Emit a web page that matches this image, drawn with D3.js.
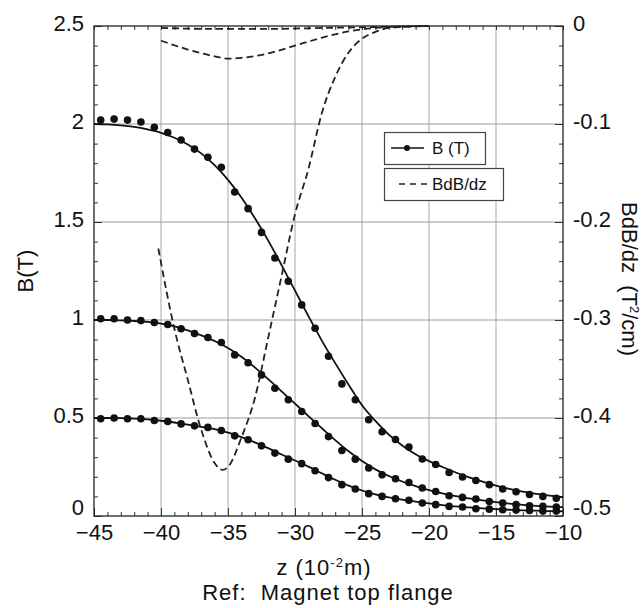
<!DOCTYPE html>
<html>
<head>
<meta charset="utf-8">
<script src="https://cdn.jsdelivr.net/npm/d3@7"></script>
<style>
  body { margin: 0; background: #fff; }
  text { font-family: "Liberation Sans", Arial, sans-serif; fill: #111; }
</style>
</head>
<body>
<div id="chart"></div>
<script>
// z positions (10^-2 m)
var zLine = [-45,-44,-43,-42,-41,-40,-39,-38,-37,-36,-35,-34,-33,-32,-31,-30,-29,-28,-27,-26,
             -25,-24,-23,-22,-21,-20,-19,-18,-17,-16,-15,-14,-13,-12,-11,-10];
var zDots = [-44.5,-43.5,-42.5,-41.5,-40.5,-39.5,-38.5,-37.5,-36.5,-35.5,-34.5,-33.5,-32.5,-31.5,
             -30.5,-29.5,-28.5,-27.5,-26.5,-25.5,-24.5,-23.5,-22.5,-21.5,-20.5,-19.5,-18.5,-17.5,
             -16.5,-15.5,-14.5,-13.5,-12.5,-11.5,-10.5];

// B (T), calculated curves
var bLine2 = [2.0,1.998,1.993,1.985,1.972,1.955,1.93,1.895,1.85,1.79,1.715,1.625,1.52,1.405,1.28,1.15,
              1.02,0.895,0.78,0.67,0.565,0.485,0.415,0.36,0.315,0.28,0.25,0.222,0.197,0.175,0.155,
              0.138,0.124,0.113,0.104,0.096];
var bLine1 = [1.0,1.0,0.998,0.995,0.99,0.982,0.968,0.947,0.922,0.893,0.857,0.812,0.758,0.698,0.636,
              0.573,0.51,0.448,0.387,0.33,0.28,0.238,0.204,0.176,0.152,0.132,0.115,0.101,0.09,0.08,
              0.071,0.063,0.057,0.052,0.048,0.045];
var bLine05 = [0.5,0.5,0.499,0.497,0.493,0.486,0.477,0.466,0.455,0.443,0.425,0.402,0.376,0.346,0.314,
               0.283,0.252,0.218,0.185,0.155,0.13,0.11,0.095,0.083,0.073,0.064,0.056,0.049,0.044,
               0.039,0.035,0.032,0.029,0.027,0.025,0.024];

// B (T), measured points
var bDots2 = [2.02,2.025,2.02,2.01,1.983,1.957,1.918,1.872,1.83,1.779,1.653,1.568,1.447,1.316,1.198,
              1.077,0.958,0.815,0.674,0.593,0.491,0.43,0.39,0.352,0.291,0.263,0.222,0.199,0.181,0.16,
              0.138,0.124,0.11,0.1,0.09];
var bDots1 = [1.006,1.006,1.0,0.997,0.987,0.977,0.955,0.931,0.911,0.885,0.822,0.782,0.72,0.652,0.593,
              0.533,0.472,0.405,0.334,0.29,0.245,0.21,0.19,0.171,0.143,0.125,0.103,0.095,0.087,0.074,
              0.066,0.058,0.052,0.049,0.046];
var bDots05 = [0.496,0.5,0.496,0.496,0.487,0.482,0.47,0.46,0.452,0.436,0.409,0.389,0.358,0.321,0.29,
               0.267,0.231,0.196,0.16,0.138,0.114,0.1,0.088,0.08,0.066,0.058,0.049,0.046,0.037,0.035,
               0.032,0.03,0.028,0.025,0.025];

// BdB/dz (T^2/cm)
var zGrad2 = [-40.2,-39,-38,-37,-36,-35.4,-35,-34,-33,-32,-31,-30,-29,-28,-27,-26,-25,-24,-23,-22,-20];
var gGrad2 = [-0.227,-0.309,-0.361,-0.412,-0.446,-0.453,-0.45,-0.42,-0.38,-0.318,-0.255,-0.192,-0.146,
              -0.089,-0.052,-0.027,-0.013,-0.006,-0.002,-0.001,0];
var zGrad1 = [-40,-38,-36,-35,-34,-32,-30,-28,-26,-24,-22,-20];
var gGrad1 = [-0.015,-0.024,-0.031,-0.0333,-0.0325,-0.028,-0.02,-0.012,-0.0055,-0.002,-0.0005,0];
var zGrad05 = [-40,-36,-32,-28,-24,-20];
var gGrad05 = [-0.002,-0.003,-0.003,-0.002,-0.001,0];

var xTicks = [-45,-40,-35,-30,-25,-20,-15,-10];
var yTicks = [0,0.5,1,1.5,2,2.5];
var rTicks = [0,-0.1,-0.2,-0.3,-0.4,-0.5];

var W = 644, H = 608;
var plot = {left: 94, right: 563, top: 26, bottom: 516};
var FONT = 22;

var svg = d3.select("#chart").append("svg")
    .attr("width", W).attr("height", H)
    .style("background", "#fff");

var x = d3.scaleLinear().domain([-45, -10]).range([plot.left, plot.right]);
var y = d3.scaleLinear().domain([0, 2.5]).range([plot.bottom, plot.top]);
var yR = d3.scaleLinear().domain([-0.5, 0]).range([plot.bottom, plot.top]);

// grid
svg.append("g").selectAll("line")
    .data(xTicks.slice(1, -1))
    .enter().append("line")
    .attr("x1", d => x(d)).attr("x2", d => x(d))
    .attr("y1", plot.top).attr("y2", plot.bottom)
    .attr("stroke", "#c4c4c4").attr("stroke-width", 1.5);
svg.append("g").selectAll("line")
    .data(yTicks.slice(1, -1))
    .enter().append("line")
    .attr("x1", plot.left).attr("x2", plot.right)
    .attr("y1", d => y(d)).attr("y2", d => y(d))
    .attr("stroke", "#9a9a9a").attr("stroke-width", 1);

// axes (ticks point inward)
var minorX = d3.range(-45, -9.5, 1);
var minorY = d3.range(0, 2.51, 0.1);
var minorR = d3.range(-0.5, 0.001, 0.02);

function styleAxis(g) {
    g.select(".domain").remove();
    g.selectAll(".tick line").attr("stroke", "#333").attr("stroke-width", 1);
    g.selectAll("text").style("font-size", FONT + "px").attr("fill", "#111");
}

svg.append("g").attr("transform", "translate(0," + plot.bottom + ")")
    .call(d3.axisBottom(x).tickValues(minorX).tickSize(-4).tickFormat(""))
    .call(styleAxis);
svg.append("g").attr("transform", "translate(0," + plot.top + ")")
    .call(d3.axisTop(x).tickValues(minorX).tickSize(-4).tickFormat(""))
    .call(styleAxis);
svg.append("g").attr("transform", "translate(" + plot.left + ",0)")
    .call(d3.axisLeft(y).tickValues(minorY).tickSize(-4).tickFormat(""))
    .call(styleAxis);
svg.append("g").attr("transform", "translate(" + plot.right + ",0)")
    .call(d3.axisRight(yR).tickValues(minorR).tickSize(-4).tickFormat(""))
    .call(styleAxis);

svg.append("g").attr("transform", "translate(0," + plot.bottom + ")")
    .call(d3.axisBottom(x).tickValues(xTicks).tickSize(-8).tickPadding(8).tickFormat(d3.format("d")))
    .call(styleAxis);
var gl = svg.append("g").attr("transform", "translate(" + plot.left + ",0)")
    .call(d3.axisLeft(y).tickValues(yTicks).tickSize(-8).tickPadding(10).tickFormat(d => d))
    .call(styleAxis);
var gr = svg.append("g").attr("transform", "translate(" + plot.right + ",0)")
    .call(d3.axisRight(yR).tickValues(rTicks).tickSize(-8).tickPadding(10).tickFormat(d => d))
    .call(styleAxis);
// labels sit a little above their ticks; the bottom ones a bit more, clear of the z labels
gl.selectAll("text").attr("dy", d => d === 0 ? "-0.05em" : "0.2em");
gr.selectAll("text").attr("dy", d => d === -0.5 ? "-0.05em" : "0.2em");

svg.append("rect")
    .attr("x", plot.left).attr("y", plot.top)
    .attr("width", plot.right - plot.left).attr("height", plot.bottom - plot.top)
    .attr("fill", "none").attr("stroke", "#222").attr("stroke-width", 1.3);

// B curves
var bLine = d3.line().x(d => x(d[0])).y(d => y(d[1])).curve(d3.curveMonotoneX);
var gLine = d3.line().x(d => x(d[0])).y(d => yR(d[1])).curve(d3.curveMonotoneX);

[bLine2, bLine1, bLine05].forEach(function(vals) {
    svg.append("path")
        .datum(d3.zip(zLine, vals))
        .attr("d", bLine)
        .attr("fill", "none").attr("stroke", "#111").attr("stroke-width", 1.8);
});

[bDots2, bDots1, bDots05].forEach(function(vals) {
    svg.append("g").selectAll("circle")
        .data(d3.zip(zDots, vals))
        .enter().append("circle")
        .attr("cx", d => x(d[0])).attr("cy", d => y(d[1]))
        .attr("r", 3.8).attr("fill", "#111");
});

// BdB/dz curves
[[zGrad2, gGrad2], [zGrad1, gGrad1], [zGrad05, gGrad05]].forEach(function(s) {
    svg.append("path")
        .datum(d3.zip(s[0], s[1]))
        .attr("d", gLine)
        .attr("fill", "none").attr("stroke", "#222")
        .attr("stroke-width", 1.8).attr("stroke-dasharray", "7,4");
});

// legend
var leg = svg.append("g");
leg.append("rect").attr("x", 384.5).attr("y", 132.5).attr("width", 101).attr("height", 32)
    .attr("fill", "#fff").attr("stroke", "#444").attr("stroke-width", 1.2);
leg.append("line").attr("x1", 391).attr("x2", 424).attr("y1", 148).attr("y2", 148)
    .attr("stroke", "#111").attr("stroke-width", 1.6);
leg.append("circle").attr("cx", 407).attr("cy", 148).attr("r", 3).attr("fill", "#111");
leg.append("text").attr("x", 432).attr("y", 154).style("font-size", "17px").text("B (T)");

leg.append("rect").attr("x", 384.5).attr("y", 168.5).attr("width", 119).attr("height", 32)
    .attr("fill", "#fff").attr("stroke", "#444").attr("stroke-width", 1.2);
leg.append("line").attr("x1", 399).attr("x2", 427).attr("y1", 184).attr("y2", 184)
    .attr("stroke", "#222").attr("stroke-width", 1.5).attr("stroke-dasharray", "6,5");
leg.append("text").attr("x", 432).attr("y", 190).style("font-size", "17px").text("BdB/dz");

// titles
svg.append("text")
    .attr("transform", "translate(33,271) rotate(-90)")
    .attr("text-anchor", "middle").style("font-size", FONT + "px").text("B(T)");

var rt = svg.append("text")
    .attr("transform", "translate(622,279) rotate(90)")
    .attr("text-anchor", "middle").style("font-size", FONT + "px")
    .attr("xml:space", "preserve");
rt.append("tspan").text("BdB/dz  (T");
rt.append("tspan").attr("dy", -8).style("font-size", "13px").text("2");
rt.append("tspan").attr("dy", 8).text("/cm)");

var xt = svg.append("text")
    .attr("x", 324).attr("y", 575)
    .attr("text-anchor", "middle").style("font-size", FONT + "px")
    .style("letter-spacing", "1px");
xt.append("tspan").text("z (10");
xt.append("tspan").attr("dy", -8).style("font-size", "13px").text("-2");
xt.append("tspan").attr("dy", 8).text("m)");

svg.append("text")
    .attr("x", 328).attr("y", 600)
    .attr("text-anchor", "middle").style("font-size", FONT + "px")
    .style("letter-spacing", "1px")
    .attr("xml:space", "preserve")
    .text("Ref:  Magnet top flange");
</script>
</body>
</html>
